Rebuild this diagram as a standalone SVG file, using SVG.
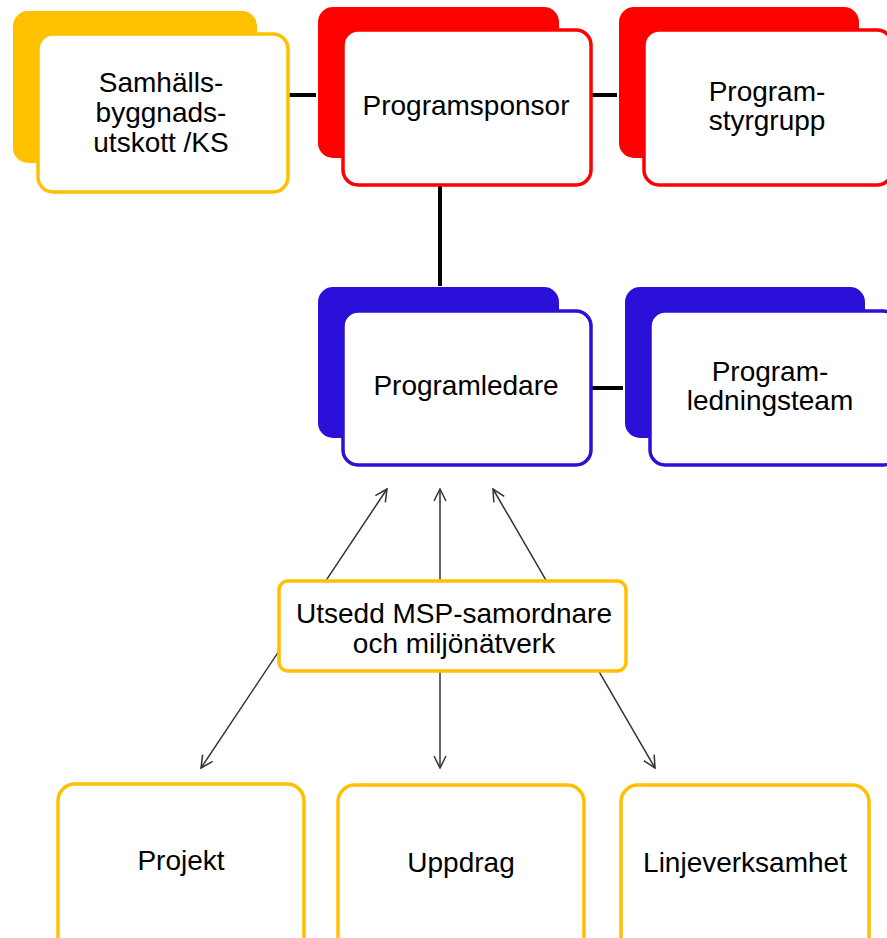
<svg xmlns="http://www.w3.org/2000/svg" width="887" height="938" viewBox="0 0 887 938">
<style>
text{font-family:"Liberation Sans",Arial,sans-serif;font-size:28px;fill:#000;text-anchor:middle}
.front{fill:#fff;stroke-width:3.5}
.y{stroke:#FFC000}.yb{fill:#FFC000}
.r{stroke:#FF0000}.rb{fill:#FF0000}
.b{stroke:#2A10D8}.bb{fill:#2A10D8}
.conn{stroke:#000;stroke-width:4;fill:none}
.arr{stroke:#333;stroke-width:1.5;fill:none;marker-start:url(#ah);marker-end:url(#ah)}
</style>
<defs>
<marker id="ah" viewBox="0 0 14 14" refX="13" refY="7" markerWidth="14" markerHeight="14" markerUnits="userSpaceOnUse" orient="auto-start-reverse">
<path d="M1,1 L13,7 L1,13" fill="none" stroke="#333" stroke-width="1.5"/>
</marker>
</defs>
<rect width="887" height="938" fill="#fff"/>
<g id="connectors">
<line class="conn" x1="289" y1="95" x2="316" y2="95"/>
<line class="conn" x1="591" y1="95" x2="617" y2="95"/>
<line class="conn" x1="440" y1="185" x2="440" y2="286"/>
<line class="conn" x1="591" y1="388" x2="623" y2="388"/>
<line class="arr" x1="201" y1="768" x2="387" y2="489"/>
<line class="arr" x1="440" y1="768" x2="440" y2="489"/>
<line class="arr" x1="655" y1="768" x2="493" y2="489"/>
</g>
<g id="samhalls">
<rect class="yb" x="13" y="11" width="244" height="152" rx="15"/>
<rect class="front y" x="38" y="34" width="250" height="158" rx="15"/>
<text x="161" y="92">Samhälls-</text>
<text x="161" y="122">byggnads-</text>
<text x="161" y="152">utskott /KS</text>
</g>
<g id="programsponsor">
<rect class="rb" x="318" y="7" width="241" height="151" rx="15"/>
<rect class="front r" x="343" y="30" width="248" height="155" rx="15"/>
<text x="466" y="115">Programsponsor</text>
</g>
<g id="programstyrgrupp">
<rect class="rb" x="619" y="7" width="240" height="151" rx="15"/>
<rect class="front r" x="644" y="30" width="248" height="155" rx="15"/>
<text x="767" y="101">Program-</text>
<text x="767" y="130">styrgrupp</text>
</g>
<g id="programledare">
<rect class="bb" x="318" y="287" width="241" height="151" rx="15"/>
<rect class="front b" x="343" y="311" width="248" height="154" rx="15"/>
<text x="466" y="395">Programledare</text>
</g>
<g id="programledningsteam">
<rect class="bb" x="625" y="287" width="240" height="151" rx="15"/>
<rect class="front b" x="650" y="311" width="248" height="154" rx="15"/>
<text x="770" y="381">Program-</text>
<text x="770" y="410">ledningsteam</text>
</g>
<g id="msp">
<rect class="front y" x="279" y="581" width="347" height="90" rx="9"/>
<text x="454" y="623">Utsedd MSP-samordnare</text>
<text x="454" y="653">och miljönätverk</text>
</g>
<g id="projekt">
<rect class="front y" x="58" y="784" width="246" height="180" rx="17"/>
<text x="181" y="870">Projekt</text>
</g>
<g id="uppdrag">
<rect class="front y" x="338" y="785" width="246" height="180" rx="17"/>
<text x="461" y="872">Uppdrag</text>
</g>
<g id="linjeverksamhet">
<rect class="front y" x="621" y="785" width="248" height="180" rx="17"/>
<text x="745" y="872">Linjeverksamhet</text>
</g>
</svg>
